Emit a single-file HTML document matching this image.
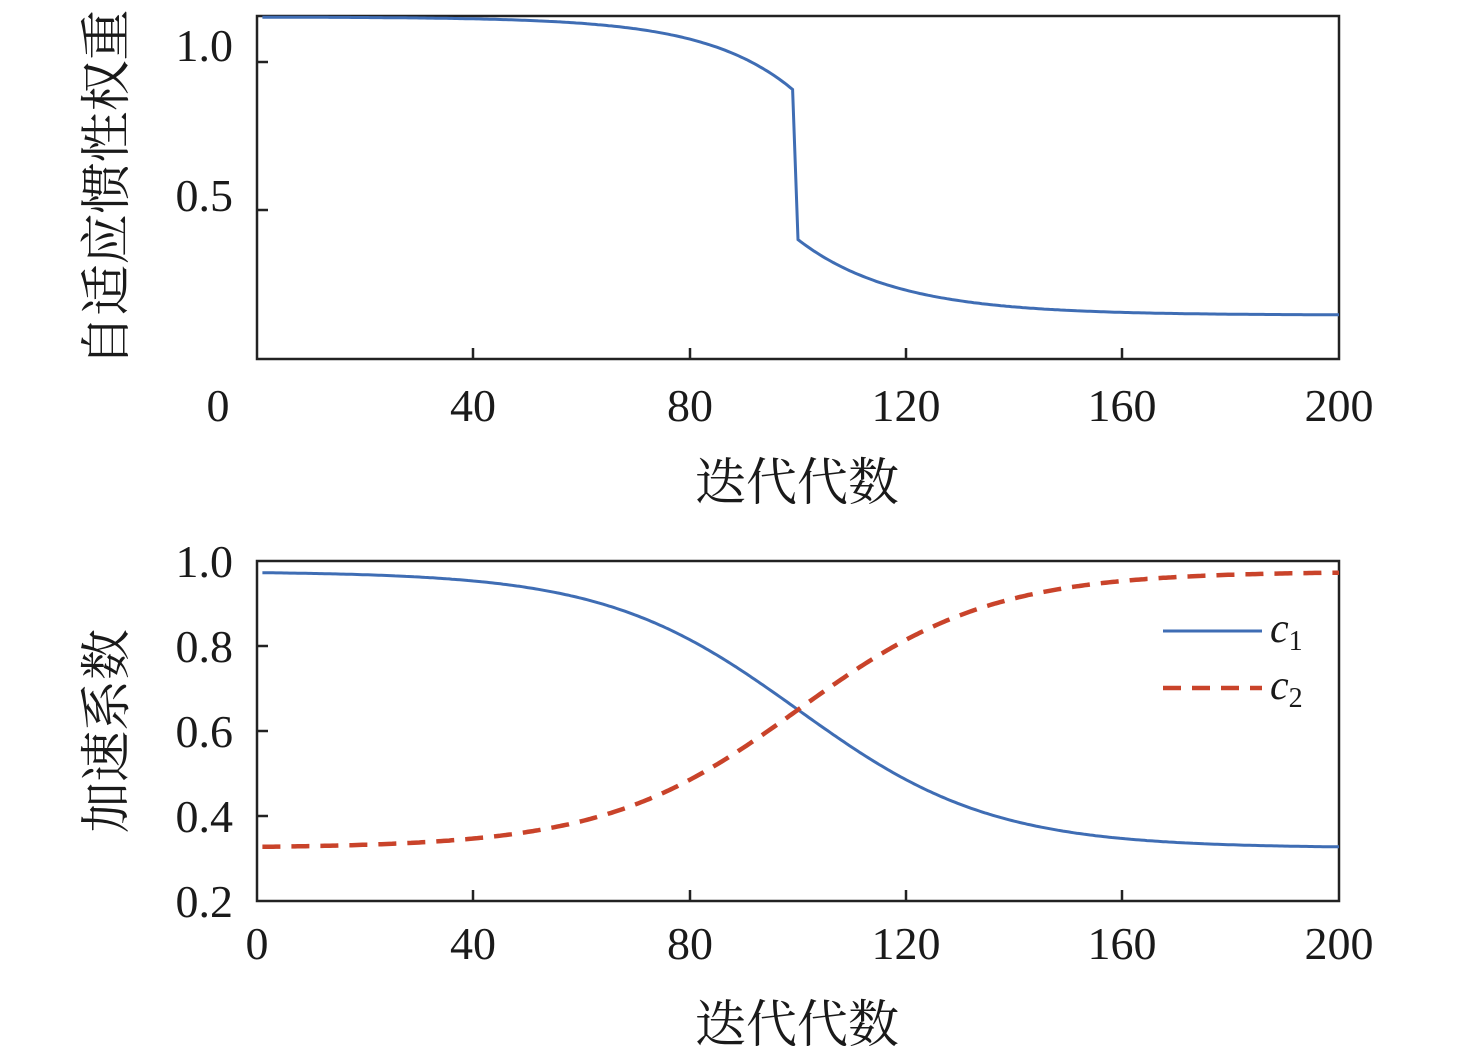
<!DOCTYPE html>
<html><head><meta charset="utf-8"><style>
body{margin:0;background:#fff;}
svg{display:block;}
text{font-family:"Liberation Serif","Times New Roman",serif;fill:#1a1a1a;}
.t{font-size:46px;}
.cj{font-size:51px;font-family:"Noto Serif CJK SC","Noto Sans CJK SC",serif;}
</style></head><body>
<svg id="s" width="1476" height="1063" viewBox="0 0 1476 1063" xmlns="http://www.w3.org/2000/svg">
<g fill="none" stroke="#222" stroke-width="2.5">
<rect x="257" y="16" width="1082" height="343"/>
<rect x="257" y="561" width="1082" height="340"/>
<path d="M473,359v-11M690,359v-11M906,359v-11M1122,359v-11M257,62h11M257,210h11"/>
<path d="M473,901v-11M690,901v-11M906,901v-11M1122,901v-11M257,646h11M257,731h11M257,816h11"/>
</g>
<path id="w" fill="none" stroke="#3f6db4" stroke-width="3"/>
<path id="c1" fill="none" stroke="#3f6db4" stroke-width="3"/>
<path id="c2" fill="none" stroke="#c9432a" stroke-width="4.5" stroke-dasharray="18,11"/>
<g class="t" text-anchor="middle">
<text x="218" y="421">0</text><text x="473" y="421">40</text><text x="690" y="421">80</text><text x="906" y="421">120</text><text x="1122" y="421">160</text><text x="1339" y="421">200</text>
<text x="257" y="959">0</text><text x="473" y="959">40</text><text x="690" y="959">80</text><text x="906" y="959">120</text><text x="1122" y="959">160</text><text x="1339" y="959">200</text>
</g>
<g class="t" text-anchor="end">
<text x="233" y="61">1.0</text><text x="233" y="211">0.5</text>
<text x="233" y="577">1.0</text><text x="233" y="662">0.8</text><text x="233" y="747">0.6</text><text x="233" y="832">0.4</text><text x="233" y="917">0.2</text>
</g>
<text class="cj" x="797" y="500" text-anchor="middle">迭代代数</text>
<text class="cj" x="797" y="1042" text-anchor="middle">迭代代数</text>
<text class="cj" transform="translate(124,188) rotate(-90)" text-anchor="middle">自适应惯性权重</text>
<text class="cj" transform="translate(124,731) rotate(-90)" text-anchor="middle">加速系数</text>
<line x1="1163" y1="631" x2="1262" y2="631" stroke="#3f6db4" stroke-width="3"/>
<line x1="1163" y1="688" x2="1262" y2="688" stroke="#c9432a" stroke-width="4.5" stroke-dasharray="18,11"/>
<text x="1270" y="642" font-size="42" font-style="italic">c<tspan font-size="28" font-style="normal" dy="8">1</tspan></text>
<text x="1270" y="699" font-size="42" font-style="italic">c<tspan font-size="28" font-style="normal" dy="8">2</tspan></text>
</svg>
<script>
var X=function(t){return 257+t*1082/200;};
var Yt=function(v){return 210-(v-0.5)*296;};
var Yb=function(v){return 901-(v-0.2)*425;};
var d="";
for(var t=1;t<=99;t+=0.5){var v=1.152-0.245*Math.exp((t-99)/16);d+=(d?"L":"M")+X(t).toFixed(1)+","+Yt(v).toFixed(1);}
for(var t=100;t<=200;t+=0.5){var v=0.145+0.255*Math.exp(-(t-100)/18);d+="L"+X(t).toFixed(1)+","+Yt(v).toFixed(1);}
document.getElementById("w").setAttribute("d",d);
var a="",b="";
for(var t=1;t<=200;t+=0.5){var s=1/(1+Math.exp((t-100)/17.9));var c1=0.325+0.65*s,c2=0.325+0.65*(1-s);
a+=(a?"L":"M")+X(t).toFixed(1)+","+Yb(c1).toFixed(1);b+=(b?"L":"M")+X(t).toFixed(1)+","+Yb(c2).toFixed(1);}
document.getElementById("c1").setAttribute("d",a);
document.getElementById("c2").setAttribute("d",b);
</script>
</body></html>
